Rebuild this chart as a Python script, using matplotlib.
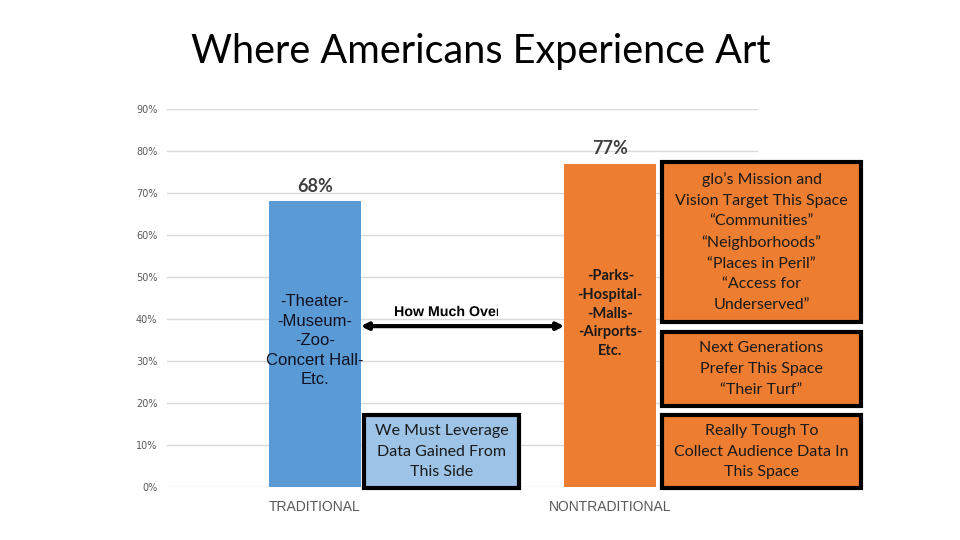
import matplotlib
matplotlib.use("Agg")
import matplotlib.pyplot as plt
from matplotlib.patches import Rectangle, PathPatch
from matplotlib.textpath import TextPath
from matplotlib.font_manager import FontProperties
from matplotlib.transforms import Affine2D, IdentityTransform

categories = ["TRADITIONAL", "NONTRADITIONAL"]
values = [68, 77]
value_labels = ["68%", "77%"]
yticks = [0, 10, 20, 30, 40, 50, 60, 70, 80, 90]
ytick_labels = ["0%", "10%", "20%", "30%", "40%", "50%", "60%", "70%", "80%", "90%"]
bar_colors = ["#5B9BD5", "#ED7D31"]
trad_text = "-Theater-\n-Museum-\n-Zoo-\nConcert Hall-\nEtc."
nontrad_text = "-Parks-\n-Hospital-\n-Malls-\n-Airports-\nEtc."
box1_text = "glo\u2019s Mission and\nVision Target This Space\n\u201cCommunities\u201d\n\u201cNeighborhoods\u201d\n\u201cPlaces in Peril\u201d\n\u201cAccess for\nUnderserved\u201d"
box2_text = "Next Generations\nPrefer This Space\n\u201cTheir Turf\u201d"
box3_text = "Really Tough To\nCollect Audience Data In\nThis Space"
blue_box_text = "We Must Leverage\nData Gained From\nThis Side"
arrow_text = "How Much Over"
title = "Where Americans Experience Art"

W, H = 960, 540
fig = plt.figure(figsize=(9.6, 5.4), dpi=100)
fig.patch.set_facecolor("white")

def fx(px):
    return px / W

def fy(py):
    return 1 - py / H

ax = fig.add_axes([fx(167), fy(487), fx(758) - fx(167), (487 - 109) / H])
x = list(range(len(categories)))
bw = 0.311
ax.bar(x, values, width=bw, color=bar_colors, zorder=2)
ax.set_xlim(-0.5, 1.5)
ax.set_ylim(0, 90)
ax.set_yticks(yticks)
ax.set_yticklabels(ytick_labels, fontsize=7, color="#595959", family="DejaVu Sans")
ax.set_xticks(x)
ax.set_xticklabels(categories, fontsize=10, color="#595959", family="Liberation Sans")
ax.tick_params(axis="both", length=0)
ax.tick_params(axis="y", pad=7)
ax.tick_params(axis="x", pad=9.5)
ax.yaxis.grid(True, color="#D9D9D9", linewidth=1, zorder=0)
ax.set_axisbelow(True)
for s in ax.spines.values():
    s.set_visible(False)

# value labels
for xi, v, lab in zip(x, values, value_labels):
    ax.text(xi, v + 1.5, lab, ha="center", va="bottom", fontsize=13,
            color="#404040", family="Lato", fontweight="bold")

# text inside bars
ax.text(0, 34.8, trad_text, ha="center", va="center", fontsize=12,
        family="Liberation Sans", color="#111122", linespacing=1.38, zorder=3)
ax.text(1, 41.3, nontrad_text, ha="center", va="center", fontsize=10.5,
        family="Lato", fontweight="bold", color="#1a1a1a", linespacing=1.45, zorder=3)

# double arrow between bars
ax.annotate("", xy=(0 + bw / 2, 38.3), xytext=(1 - bw / 2, 38.3),
            arrowprops=dict(arrowstyle="<|-|>", color="black", lw=3,
                            mutation_scale=10, shrinkA=0, shrinkB=0), zorder=4)

# clipped label above the arrow (text box cut off on the right)
fp = FontProperties(family="Liberation Sans", weight="bold")
tp = TextPath((0, 0), arrow_text, size=14.2, prop=fp)
ext = tp.get_extents()
tr = Affine2D().translate(395 - ext.x0, H - 311 - (ext.y1 + ext.y0) / 2)
pp = PathPatch(tr.transform_path(tp), transform=IdentityTransform(),
               facecolor="black", edgecolor="none", zorder=7)
fig.patches.append(pp)
clip_rect = Rectangle((0, 0), 498, H, transform=IdentityTransform())
pp.set_clip_path(clip_rect)

def box(x0, y0, x1, y1, fc, text, fs=11.5):
    r = Rectangle((fx(x0), fy(y1)), fx(x1) - fx(x0), fy(y0) - fy(y1),
                  transform=fig.transFigure, facecolor=fc, edgecolor="black",
                  linewidth=3, zorder=5)
    fig.patches.append(r)
    fig.text(fx((x0 + x1) / 2), fy((y0 + y1) / 2), text, ha="center", va="center",
             fontsize=fs, family="Lato", color="#1a1a1a", linespacing=1.6, zorder=6)

box(662, 162, 861, 322, "#ED7D31", box1_text)
box(662, 332, 861, 406, "#ED7D31", box2_text)
box(662, 415, 861, 488, "#ED7D31", box3_text)
box(364, 415, 519, 488, "#9DC3E6", blue_box_text)

fig.text(fx(481), fy(51), title, ha="center", va="center", fontsize=28.5,
         family="Lato", color="black")

fig.savefig("out.png", dpi=100)
